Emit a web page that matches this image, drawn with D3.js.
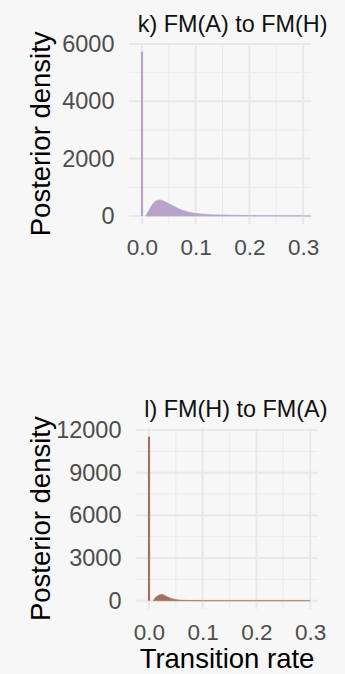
<!DOCTYPE html>
<html>
<head>
<meta charset="utf-8">
<script src="https://cdn.jsdelivr.net/npm/d3@7"></script>
<style>
  html, body { margin: 0; padding: 0; background: #f7f7f7; }
  svg { display: block; }
</style>
</head>
<body>
<svg id="chart" width="345" height="674"></svg>
<script>
// ---------- data ----------
const titles = ["k) FM(A) to FM(H)", "l) FM(H) to FM(A)"];
const xTicks = [0, 0.1, 0.2, 0.3];
const xMinor = [0.05, 0.15, 0.25];
const yTicksK = [0, 2000, 4000, 6000];
const yMinorK = [1000, 3000, 5000];
const yTicksL = [0, 3000, 6000, 9000, 12000];
const yMinorL = [1500, 4500, 7500, 10500];

// spike at zero (posterior mass near rate 0)
const spikeK = 5731;
const spikeL = 11530;
const spikeWidth = 0.004;

// continuous part of the posterior density
const rateK = [0.007, 0.010, 0.015, 0.021, 0.027, 0.033, 0.043, 0.052, 0.062, 0.071, 0.080, 0.089, 0.099, 0.111, 0.130, 0.155, 0.180, 0.200, 0.220, 0.250, 0.280, 0.300, 0.315];
const densK = [0, 110, 268, 443, 535, 558, 500, 407, 314, 233, 174, 128, 93, 70, 47, 32, 22, 16, 12, 8, 5, 3, 0];
const rateL = [0.008, 0.011, 0.0155, 0.0205, 0.0237, 0.030, 0.036, 0.0425, 0.052, 0.061, 0.077, 0.100, 0.150, 0.200, 0.250, 0.300];
const densL = [0, 169, 330, 422, 450, 352, 239, 141, 70, 28, 10, 5, 3, 2, 1, 0];

const colors = ["#b7a4c8", "#a4705f"];

// ---------- layout ----------
const svg = d3.select("#chart");
const FONT = "'Liberation Sans', Arial, Helvetica, sans-serif";

const panels = [
  { title: titles[0], rate: rateK, dens: densK, spike: spikeK, color: colors[0],
    yTicks: yTicksK, yMinor: yMinorK, showXTitle: false,
    left: 129, right: 311, top: 43.5, bottom: 224.2, titleY: 31.5 },
  { title: titles[1], rate: rateL, dens: densL, spike: spikeL, color: colors[1],
    yTicks: yTicksL, yMinor: yMinorL, showXTitle: true,
    left: 136, right: 318, top: 428.5, bottom: 608.9, titleY: 416.5 }
];

panels.forEach(p => {
  const yMax = p.spike;
  const x = d3.scaleLinear().domain([-0.0242, 0.3147]).range([p.left, p.right]);
  const y = d3.scaleLinear().domain([-0.05 * yMax, 1.05 * yMax]).range([p.bottom, p.top]);

  const g = svg.append("g");

  // grid: minor
  g.append("g").selectAll("line.vminor").data(xMinor).join("line")
    .attr("x1", d => x(d)).attr("x2", d => x(d))
    .attr("y1", p.top).attr("y2", p.bottom)
    .attr("stroke", "#ebebeb").attr("stroke-width", 1);
  g.append("g").selectAll("line.hminor").data(p.yMinor).join("line")
    .attr("x1", p.left).attr("x2", p.right)
    .attr("y1", d => y(d)).attr("y2", d => y(d))
    .attr("stroke", "#ebebeb").attr("stroke-width", 1);
  // grid: major
  g.append("g").selectAll("line.vmajor").data(xTicks).join("line")
    .attr("x1", d => x(d)).attr("x2", d => x(d))
    .attr("y1", p.top).attr("y2", p.bottom)
    .attr("stroke", "#e8e8e8").attr("stroke-width", 2);
  g.append("g").selectAll("line.hmajor").data(p.yTicks).join("line")
    .attr("x1", p.left).attr("x2", p.right)
    .attr("y1", d => y(d)).attr("y2", d => y(d))
    .attr("stroke", "#e8e8e8").attr("stroke-width", 2);

  // density area
  const pts = p.rate.map((r, i) => ({ r, d: p.dens[i] }));
  const area = d3.area().x(d => x(d.r)).y0(y(0)).y1(d => y(d.d)).curve(d3.curveMonotoneX);
  g.append("path").datum(pts).attr("d", area)
    .attr("fill", p.color).attr("stroke", p.color).attr("stroke-width", 0.6);

  // spike at zero
  g.append("rect")
    .attr("x", x(-spikeWidth / 2)).attr("width", x(spikeWidth / 2) - x(-spikeWidth / 2))
    .attr("y", y(p.spike)).attr("height", y(0) - y(p.spike))
    .attr("fill", p.color);

  // axes
  const yAxis = d3.axisLeft(y).tickValues(p.yTicks).tickSize(0).tickPadding(14.5).tickFormat(d3.format("d"));
  const ya = g.append("g").attr("transform", `translate(${p.left},0)`).call(yAxis);
  ya.select(".domain").remove();
  ya.selectAll("text").attr("font-family", FONT).attr("font-size", 23.5).attr("fill", "#4d4d4d");

  const xAxis = d3.axisBottom(x).tickValues(xTicks).tickSize(0).tickPadding(15).tickFormat(d3.format(".1f"));
  const xa = g.append("g").attr("transform", `translate(0,${p.bottom})`).call(xAxis);
  xa.select(".domain").remove();
  xa.selectAll("text").attr("font-family", FONT).attr("font-size", 22.5).attr("fill", "#4d4d4d");

  // title
  g.append("text").text(p.title)
    .attr("x", 327.5).attr("y", p.titleY)
    .attr("text-anchor", "end")
    .attr("font-family", FONT).attr("font-size", 23.4).attr("fill", "#111");

  // y-axis title
  g.append("text").text("Posterior density")
    .attr("transform", `translate(50,${(p.top + p.bottom) / 2}) rotate(-90)`)
    .attr("text-anchor", "middle")
    .attr("font-family", FONT).attr("font-size", 27.5).attr("fill", "#000");

  if (p.showXTitle) {
    g.append("text").text("Transition rate")
      .attr("x", (p.left + p.right) / 2).attr("y", 668)
      .attr("text-anchor", "middle")
      .attr("font-family", FONT).attr("font-size", 27.5).attr("fill", "#000");
  }
});
</script>
</body>
</html>
